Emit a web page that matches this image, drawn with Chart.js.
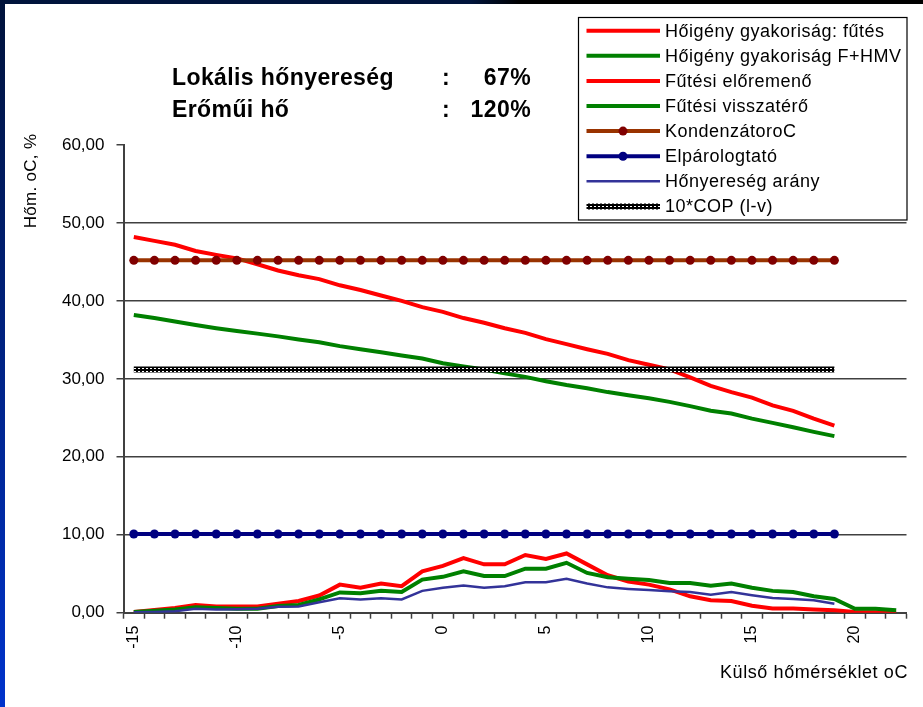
<!DOCTYPE html>
<html lang="hu">
<head>
<meta charset="UTF-8">
<title>Hőnyereség</title>
<script src="https://cdn.jsdelivr.net/npm/chart.js@4.4.1/dist/chart.umd.min.js"></script>
<style>
body {
	margin: 0;
	width: 923px;
	height: 707px;
	background: #000;
	overflow: hidden;
	position: relative;
}

#topStrip {
	position: absolute;
	left: 0;
	top: 0;
	width: 923px;
	height: 4px;
	background: linear-gradient(to right, #00143c 0, #00143c 470px, #000 520px);
}

#leftStrip {
	position: absolute;
	left: 0;
	top: 0;
	width: 5px;
	height: 707px;
	background: linear-gradient(to bottom, #00123a, #0033cc);
}

#chartBox {
	position: absolute;
	left: 5px;
	top: 4px;
	width: 918px;
	height: 703px;
	background: #fff;
}
</style>
</head>
<body>
	<div id="topStrip"></div>
	<div id="leftStrip"></div>
	<div id="chartBox">
		<canvas id="hoChart"></canvas>
	</div>
	<script>
		// kategóriák: külső hőmérséklet
		const temps = [-15, -14, -13, -12, -11, -10, -9, -8, -7, -6, -5, -4, -3, -2, -1, 0, 1, 2, 3, 4,
			5, 6, 7, 8, 9, 10, 11, 12, 13, 14, 15, 16, 17, 18, 19, 20, 21, 22];

		const heatDemand = [0.1, 0.35, 0.6, 1.0, 0.8, 0.8, 0.8, 1.15, 1.5, 2.2, 3.6, 3.2, 3.75, 3.4, 5.3, 6.0, 7.0, 6.2, 6.2, 7.4,
			6.9, 7.6, 6.2, 4.8, 4.0, 3.6, 3.0, 2.1, 1.6, 1.5, 0.9, 0.55, 0.55, 0.4, 0.3, 0.1, 0.05, 0];
		const heatDemandHmv = [0.1, 0.25, 0.4, 0.7, 0.6, 0.5, 0.5, 0.85, 1.0, 1.7, 2.6, 2.5, 2.8, 2.65, 4.25, 4.6, 5.3, 4.7, 4.7, 5.65,
			5.65, 6.4, 5.1, 4.55, 4.35, 4.2, 3.8, 3.8, 3.45, 3.75, 3.2, 2.8, 2.65, 2.1, 1.75, 0.5, 0.5, 0.3];
		const flowTemp = [48.2, 47.7, 47.2, 46.4, 45.9, 45.45, 44.7, 43.9, 43.3, 42.8, 42.0, 41.4, 40.7, 40.0, 39.2, 38.6, 37.8, 37.2, 36.5, 35.9,
			35.1, 34.45, 33.8, 33.2, 32.4, 31.8, 31.2, 30.2, 29.1, 28.3, 27.6, 26.6, 25.9, 24.9, 24.0];
		const returnTemp = [38.2, 37.8, 37.35, 36.9, 36.5, 36.15, 35.8, 35.45, 35.05, 34.7, 34.2, 33.8, 33.4, 33.0, 32.6, 32.0, 31.6, 31.2, 30.7, 30.25,
			29.7, 29.2, 28.8, 28.3, 27.9, 27.5, 27.05, 26.5, 25.9, 25.55, 24.9, 24.35, 23.8, 23.2, 22.65];
		const condenser = [45.2, 45.2, 45.2, 45.2, 45.2, 45.2, 45.2, 45.2, 45.2, 45.2, 45.2, 45.2, 45.2, 45.2, 45.2, 45.2, 45.2, 45.2, 45.2, 45.2,
			45.2, 45.2, 45.2, 45.2, 45.2, 45.2, 45.2, 45.2, 45.2, 45.2, 45.2, 45.2, 45.2, 45.2, 45.2];
		const evaporator = [10.1, 10.1, 10.1, 10.1, 10.1, 10.1, 10.1, 10.1, 10.1, 10.1, 10.1, 10.1, 10.1, 10.1, 10.1, 10.1, 10.1, 10.1, 10.1, 10.1,
			10.1, 10.1, 10.1, 10.1, 10.1, 10.1, 10.1, 10.1, 10.1, 10.1, 10.1, 10.1, 10.1, 10.1, 10.1];
		const gainRatio = [0.05, 0.1, 0.2, 0.5, 0.4, 0.45, 0.5, 0.75, 0.8, 1.35, 1.85, 1.7, 1.85, 1.7, 2.8, 3.2, 3.5, 3.2, 3.4, 3.9,
			3.9, 4.35, 3.75, 3.25, 3.05, 2.9, 2.75, 2.65, 2.3, 2.65, 2.25, 1.9, 1.75, 1.6, 1.15];
		const cop10 = [31.2, 31.2, 31.2, 31.2, 31.2, 31.2, 31.2, 31.2, 31.2, 31.2, 31.2, 31.2, 31.2, 31.2, 31.2, 31.2, 31.2, 31.2, 31.2, 31.2,
			31.2, 31.2, 31.2, 31.2, 31.2, 31.2, 31.2, 31.2, 31.2, 31.2, 31.2, 31.2, 31.2, 31.2, 31.2];

		const yTicks = [0, 10, 20, 30, 40, 50, 60];
		const seriesNames = ['Hőigény gyakoriság: fűtés', 'Hőigény gyakoriság F+HMV', 'Fűtési előremenő', 'Fűtési visszatérő',
			'KondenzátoroC', 'Elpárologtató', 'Hőnyereség arány', '10*COP (l-v)'];
		const titleLabels = ['Lokális hőnyereség', 'Erőműi hő'];
		const titleValues = ['67%', '120%'];
		const yTitle = 'Hőm. oC, %';
		const xTitle = 'Külső hőmérséklet oC';

		const FONT = '"Liberation Sans", Arial, sans-serif';

		// mintás vonal a COP-hoz
		const pc = document.createElement('canvas');
		pc.width = 4;
		pc.height = 3;
		const pctx = pc.getContext('2d');
		pctx.fillStyle = '#000';
		pctx.fillRect(0, 0, 4, 3);
		pctx.fillStyle = '#fff';
		pctx.fillRect(1, 1, 2, 1);
		const copPattern = pctx.createPattern(pc, 'repeat');

		function line(label, data, color, width, order) {
			return {
				label: label,
				data: data,
				borderColor: color,
				backgroundColor: color,
				borderWidth: width,
				pointRadius: 0,
				pointHoverRadius: 0,
				tension: 0,
				fill: false,
				order: order
			};
		}

		const datasets = [
			line(seriesNames[0], heatDemand, '#ff0000', 4, 8),
			line(seriesNames[1], heatDemandHmv, '#008000', 4, 7),
			line(seriesNames[2], flowTemp, '#ff0000', 4, 6),
			line(seriesNames[3], returnTemp, '#008000', 4, 5),
			line(seriesNames[4], condenser, '#993300', 4, 4),
			line(seriesNames[5], evaporator, '#000080', 4, 3),
			line(seriesNames[6], gainRatio, '#333399', 2.5, 2),
			line(seriesNames[7], cop10, copPattern, 6, 1)
		];
		datasets[4].pointRadius = 4.5;
		datasets[4].pointBackgroundColor = '#800000';
		datasets[4].pointBorderWidth = 0;
		datasets[5].pointRadius = 4.5;
		datasets[5].pointBackgroundColor = '#000080';
		datasets[5].pointBorderWidth = 0;

		const textPlugin = {
			id: 'textPlugin',
			afterDraw(chart) {
				const ctx = chart.ctx;
				ctx.save();
				ctx.fillStyle = '#000';

				// felső szöveg
				ctx.font = 'bold 23px ' + FONT;
				ctx.letterSpacing = '0.4px';
				ctx.textBaseline = 'alphabetic';
				const baselines = [81, 112.5];
				for (let i = 0; i < titleLabels.length; i++) {
					ctx.textAlign = 'left';
					ctx.fillText(titleLabels[i], 167, baselines[i]);
					ctx.textAlign = 'center';
					ctx.fillText(':', 441, baselines[i]);
					ctx.textAlign = 'right';
					ctx.fillText(titleValues[i], 526, baselines[i]);
				}

				// tengelyfeliratok
				ctx.font = '17px ' + FONT;
				ctx.letterSpacing = '0.3px';
				ctx.save();
				ctx.translate(26, 177);
				ctx.rotate(-Math.PI / 2);
				ctx.textAlign = 'center';
				ctx.textBaseline = 'middle';
				ctx.fillText(yTitle, 0, 0);
				ctx.restore();

				ctx.font = '18px ' + FONT;
				ctx.letterSpacing = '0.6px';
				ctx.textAlign = 'right';
				ctx.textBaseline = 'alphabetic';
				ctx.fillText(xTitle, 903, 674);

				// jelmagyarázat
				const lx = 573.5, ly = 13.5, lw = 328.5, lh = 202.5;
				ctx.fillStyle = '#fff';
				ctx.fillRect(lx, ly, lw, lh);
				ctx.strokeStyle = '#000';
				ctx.lineWidth = 1.2;
				ctx.strokeRect(lx, ly, lw, lh);
				ctx.font = '18px ' + FONT;
				ctx.letterSpacing = '0.5px';
				ctx.textAlign = 'left';
				ctx.textBaseline = 'middle';
				chart.data.datasets.forEach((ds, i) => {
					const y = 26.7 + i * 25.1;
					ctx.strokeStyle = ds.borderColor;
					ctx.lineWidth = ds.borderWidth;
					ctx.beginPath();
					ctx.moveTo(581.5, y);
					ctx.lineTo(655, y);
					ctx.stroke();
					if (ds.pointRadius > 0) {
						ctx.fillStyle = ds.pointBackgroundColor;
						ctx.beginPath();
						ctx.arc(618, y, ds.pointRadius, 0, Math.PI * 2);
						ctx.fill();
					}
					ctx.fillStyle = '#000';
					ctx.fillText(ds.label, 660, y + 1);
				});
				ctx.restore();
			}
		};

		const ctx = document.getElementById('hoChart').getContext('2d');
		const myChart = new Chart(ctx, {
			type: 'line',
			data: {
				labels: temps.map(String),
				datasets: datasets
			},
			options: {
				responsive: true,
				maintainAspectRatio: false,
				animation: false,
				layout: {
					padding: { left: 0, top: 141, right: 16.5, bottom: 0 }
				},
				plugins: {
					legend: { display: false },
					tooltip: { enabled: false }
				},
				scales: {
					x: {
						type: 'category',
						offset: true,
						grid: {
							offset: true,
							drawOnChartArea: false,
							drawTicks: true,
							tickLength: 6,
							tickColor: '#404040',
							tickWidth: 1.5
						},
						border: { color: '#404040', width: 2 },
						ticks: {
							autoSkip: false,
							minRotation: 90,
							maxRotation: 90,
							padding: 7,
							color: '#000',
							font: { family: FONT, size: 16 },
							callback: function (value) {
								const t = Number(this.getLabelForValue(value));
								return t % 5 === 0 ? String(t) : '';
							}
						},
						afterFit(scale) {
							scale.height = 94.3;
						}
					},
					y: {
						min: 0,
						max: 60,
						afterBuildTicks(scale) {
							scale.ticks = yTicks.map(v => ({ value: v }));
						},
						grid: {
							color: c => (c.tick && c.tick.value === 60) ? 'rgba(0,0,0,0)' : '#404040',
							lineWidth: 1.5,
							tickLength: 7,
							tickColor: '#404040',
							tickWidth: 1.5
						},
						border: { color: '#404040', width: 2 },
						ticks: {
							padding: 12,
							color: '#000',
							font: { family: FONT, size: 17 },
							callback: v => v.toFixed(2).replace('.', ',')
						},
						afterFit(scale) {
							scale.width = 118.5;
						}
					}
				}
			},
			plugins: [textPlugin]
		});
	</script>
</body>
</html>
